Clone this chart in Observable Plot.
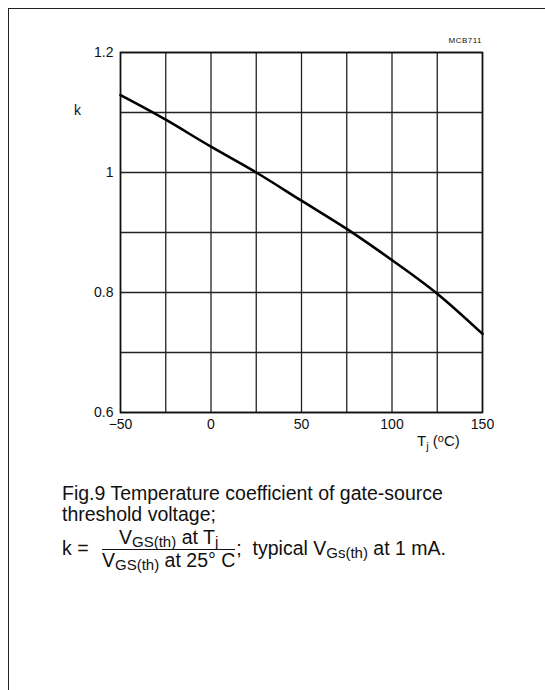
<!DOCTYPE html>
<html>
<head>
<meta charset="utf-8">
<script src="https://cdn.jsdelivr.net/npm/d3@7"></script>
<script src="https://cdn.jsdelivr.net/npm/@observablehq/plot@0.6"></script>
<style>
html, body { margin: 0; padding: 0; background: #fff; }
#page { position: relative; width: 545px; height: 690px; overflow: hidden;
  font-family: "Liberation Sans", Arial, Helvetica, sans-serif; color: #111; }
#frameTop { position: absolute; left: 8px; top: 8px; width: 537px; height: 0; border-top: 1.5px solid #222; }
#frameLeft { position: absolute; left: 8px; top: 8px; width: 0; height: 682px; border-left: 1.5px solid #222; }
#chart { position: absolute; left: 0; top: 0; }
.lbl { position: absolute; white-space: nowrap; line-height: 1; }
#code { right: 63px; top: 37px; font-size: 8px; letter-spacing: 0.5px; }
#ylab { left: 74px; top: 103px; font-size: 14px; }
#xlab { left: 417px; top: 433px; font-size: 15px; }
#xlab sub { font-size: 11px; vertical-align: -4px; }
#xlab sup { font-size: 11px; vertical-align: 4px; }
#caption { position: absolute; left: 62px; top: 483px; font-size: 19.5px; line-height: 21px; }
#caption sub { font-size: 15px; vertical-align: -3px; line-height: 0; }
.row { display: flex; align-items: center; white-space: nowrap; }
.frac { display: inline-flex; flex-direction: column; align-items: center; margin: 0 1px 0 8px; }
.num { padding: 0 0 1px 0; line-height: 21px; }
.den { border-top: 1.3px solid #111; line-height: 20px; }
</style>
</head>
<body>
<div id="page">
  <div id="frameTop"></div>
  <div id="frameLeft"></div>
  <div id="chart"></div>
  <div class="lbl" id="code">MCB711</div>
  <div class="lbl" id="ylab">k</div>
  <div class="lbl" id="xlab">T<sub>j</sub> (<sup>o</sup>C)</div>
  <div id="caption">
    <div>Fig.9 Temperature coefficient of gate-source</div>
    <div>threshold voltage;</div>
    <div class="row" style="margin-top:2px">
      <span>k =&nbsp;</span>
      <span class="frac">
        <span class="num">V<sub>GS(th)</sub> at T<sub>j</sub></span>
        <span class="den">V<sub>GS(th)</sub> at 25° C</span>
      </span>
      <span>;&nbsp;&nbsp;typical V<sub>Gs(th)</sub> at 1 mA.</span>
    </div>
  </div>
</div>
<script>
// Data
const temperatures = [-50, -25, 0, 25, 50, 75, 100, 125, 150];
const kValues = [1.129, 1.088, 1.043, 1.0, 0.953, 0.906, 0.854, 0.798, 0.731];

// Grid and tick values
const xGridValues = [-50, -25, 0, 25, 50, 75, 100, 125, 150];
const yGridValues = [0.6, 0.7, 0.8, 0.9, 1.0, 1.1, 1.2];
const xTickLabels = [-50, 0, 50, 100, 150];
const yTickLabels = [0.6, 0.8, 1, 1.2];

const data = temperatures.map((t, i) => ({t, k: kValues[i]}));

const chart = Plot.plot({
  width: 545,
  height: 460,
  marginLeft: 120,
  marginRight: 63,
  marginTop: 52,
  marginBottom: 48,
  x: {domain: [-50, 150]},
  y: {domain: [0.6, 1.2]},
  style: {fontFamily: '"Liberation Sans", Arial, sans-serif', fontSize: "14px", color: "#111", background: "transparent"},
  marks: [
    Plot.ruleX(xGridValues, {stroke: "#222", strokeWidth: 1.3}),
    Plot.ruleY(yGridValues, {stroke: "#222", strokeWidth: 1.3}),
    Plot.frame({stroke: "#111", strokeWidth: 1.6}),
    Plot.line(data, {x: "t", y: "k", curve: "natural", stroke: "#000", strokeWidth: 2.6}),
    Plot.axisX(xTickLabels, {tickSize: 0, tickPadding: 7, label: null,
      tickFormat: d => d < 0 ? "\u2212" + Math.abs(d) : String(d)}),
    Plot.axisY(yTickLabels, {tickSize: 0, tickPadding: 7, label: null,
      tickFormat: d => String(d)})
  ]
});
document.getElementById("chart").appendChild(chart);
</script>
</body>
</html>
